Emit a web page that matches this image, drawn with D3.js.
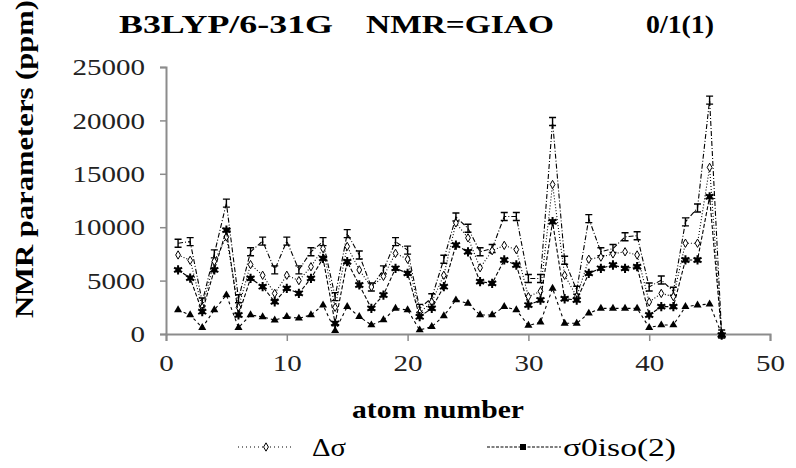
<!DOCTYPE html>
<html><head><meta charset="utf-8">
<script src="https://cdn.jsdelivr.net/npm/d3@7"></script>
<style>body{margin:0;background:#fff}svg{display:block}</style>
</head><body><svg id="c" width="796" height="468"></svg>
<script>
const atoms = [1,2,3,4,5,6,7,8,9,10,11,12,13,14,15,16,17,18,19,20,21,22,23,24,25,26,27,28,29,30,31,32,33,34,35,36,37,38,39,40,41,42,43,44,45,46];
const topSeries = [8500,8650,3000,7500,12250,3300,7700,8700,6000,8700, 6000,7700,8650,3500,9400,7400,4400,6000,8650,7850, 2400,3400,7000,10950,9900,7700,8000,11000,11000,5200, 5200,19900,6900,4100,10800,7700,8000,9100,9200,4400, 5050,4000,10500,11800,21900,0];
const deltaSigma = [7400,6900,2500,6800,9100,2500,6500,5500,3800,5500, 5000,6300,8000,2500,8200,6000,4400,5400,7550,7000, 2000,3000,5500,10400,9000,6200,7800,8300,7900,3500, 4000,14000,5500,3500,7000,7200,7500,7700,7400,3000, 3800,3500,8500,8500,15600,0];
const sigma0iso2 = [6000,5240,2090,6000,9730,1780,5210,4430,3020,4270, 3810,5210,7080,1000,6770,4590,2400,3650,6150,5680, 1620,2400,4430,8330,7700,4900,4740,6930,6460,2710, 3180,10510,3300,3180,5680,6150,6460,6150,6300,1780, 2560,2560,6930,6930,12850,-100];
const bottomSeries = [2250,1780,600,2250,3650,600,1780,1600,1300,1620, 1470,1780,2710,300,2560,1620,840,1310,2400,2250, 370,690,1700,3180,2870,1780,1780,2560,2250,800, 1100,4270,1000,1000,1940,2400,2400,2400,2400,600, 840,840,2560,2710,2800,0];
const xTicks = [0,10,20,30,40,50];
const yTicks = [0,5000,10000,15000,20000,25000];
const legendLabels = ["\u0394\u03c3", "\u03c30iso(2)"];
const titleParts = ["B3LYP/6-31G", "NMR=GIAO", "0/1(1)"];
const xTitle = "atom number";
const yTitle = "NMR parameters (ppm)";

const svg = d3.select("#c");
svg.append("rect").attr("width",796).attr("height",468).attr("fill","#fff");
const x = d3.scaleLinear().domain([0,50]).range([166,770]);
const y = d3.scaleLinear().domain([0,25000]).range([334,67]);
const serif = "Liberation Serif";

// axes
const axColor = "#8c8c8c";
const gx = svg.append("g").attr("transform","translate(0,"+y(0)+")")
  .call(d3.axisBottom(x).tickValues(xTicks).tickSize(7).tickPadding(13).tickFormat(d3.format("d")));
const gy = svg.append("g").attr("transform","translate("+x(0)+",0)")
  .call(d3.axisLeft(y).tickValues(yTicks).tickSize(6).tickPadding(15).tickFormat(d3.format("d")));
[gx,gy].forEach(g=>{
  g.attr("font-family",null).attr("font-size",null);
  g.select(".domain").attr("stroke",axColor).attr("stroke-width",2);
  g.selectAll(".tick line").attr("stroke",axColor).attr("stroke-width",1.5);
  g.selectAll(".tick text").style("font-family",serif).style("font-size","24px").attr("fill","#222")
   .each(function(){ const t=d3.select(this).text(); d3.select(this).attr("textLength", t.length*14.5).attr("lengthAdjust","spacingAndGlyphs");});
});
gx.selectAll(".tick text").attr("dy","0.72em");

// series
const series = [
  {vals: topSeries, dash: "5,2,1,2", marker: "bar"},
  {vals: deltaSigma, dash: "1,2", marker: "diamond"},
  {vals: sigma0iso2, dash: "4,2", marker: "star"},
  {vals: bottomSeries, dash: "3,3", marker: "tri"}
];
const line = d3.line().x((d,i)=>x(atoms[i])).y(d=>y(d));
function drawMarker(g, type){
  if(type==="bar"){
    g.append("path").attr("d","M-3.5,-4H3.5M0,-4V4M-3.5,4H3.5").attr("stroke","#000").attr("stroke-width",1.4).attr("fill","none");
  } else if(type==="diamond"){
    g.append("path").attr("d",d3.symbol(d3.symbolDiamond,20)()).attr("fill","#fff").attr("stroke","#000").attr("stroke-width",1);
  } else if(type==="star"){
    g.append("path").attr("d",d3.symbol(d3.symbolAsterisk,60)()).attr("stroke","#000").attr("stroke-width",2).attr("fill","none");
    g.append("rect").attr("x",-2.5).attr("y",-2.5).attr("width",5).attr("height",5).attr("fill","#000");
  } else if(type==="tri"){
    g.append("path").attr("d",d3.symbol(d3.symbolTriangle,28)()).attr("fill","#000");
  }
}
series.forEach(s=>{
  svg.append("path").datum(s.vals).attr("d",line).attr("fill","none")
    .attr("stroke","#000").attr("stroke-width",1.1).attr("stroke-dasharray",s.dash);
  s.vals.forEach((v,i)=>{
    const g = svg.append("g").attr("transform","translate("+x(atoms[i])+","+y(v)+")");
    drawMarker(g, s.marker);
  });
});

// titles
function stxt(sel){ return sel.style("font-family",serif); }
const tp = [[119,214],[366,188],[646,68]];
titleParts.forEach((t,i)=>{
  stxt(svg.append("text")).attr("x",tp[i][0]).attr("y",33).text(t)
    .style("font-weight","bold").style("font-size","25px")
    .attr("textLength",tp[i][1]).attr("lengthAdjust","spacingAndGlyphs").attr("fill","#000");
});
stxt(svg.append("text")).attr("x",352).attr("y",418).text(xTitle)
  .style("font-weight","bold").style("font-size","25px")
  .attr("textLength",172).attr("lengthAdjust","spacingAndGlyphs");
stxt(svg.append("text")).attr("transform","translate(33,318) rotate(-90)").text(yTitle)
  .style("font-weight","bold").style("font-size","25px")
  .attr("textLength",318).attr("lengthAdjust","spacingAndGlyphs");

// legend
const lg = svg.append("g");
lg.append("line").attr("x1",238).attr("x2",292).attr("y1",447).attr("y2",447)
  .attr("stroke","#000").attr("stroke-width",1.2).attr("stroke-dasharray","1,3");
drawMarker(lg.append("g").attr("transform","translate(266,447)"),"diamond");
stxt(lg.append("text")).attr("x",312).attr("y",456).text(legendLabels[0])
  .style("font-size","25px").attr("textLength",34).attr("lengthAdjust","spacingAndGlyphs");
lg.append("line").attr("x1",487).attr("x2",561).attr("y1",447).attr("y2",447)
  .attr("stroke","#000").attr("stroke-width",1.2).attr("stroke-dasharray","3,1.5");
lg.append("rect").attr("x",520).attr("y",444).attr("width",6).attr("height",6).attr("fill","#000");
stxt(lg.append("text")).attr("x",563).attr("y",456).text(legendLabels[1])
  .style("font-size","25px").attr("textLength",113).attr("lengthAdjust","spacingAndGlyphs");
</script></body></html>
